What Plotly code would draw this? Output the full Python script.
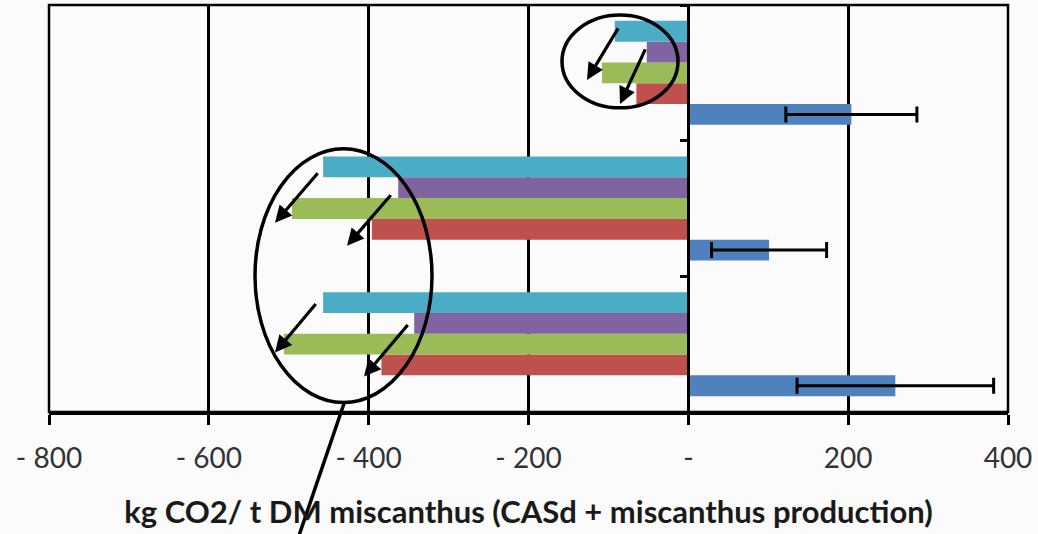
import plotly.graph_objects as go

# ---- data (categories listed bottom -> top) ----
categories = ["Scenario 3", "Scenario 2", "Scenario 1"]
series_names = ["Series 1", "Series 2", "Series 3", "Series 4", "Series 5"]
blue_vals = [259, 101, 204]
blue_err = [123, 72, 82]
red_vals = [-384, -396, -65]
green_vals = [-506, -496, -108]
purple_vals = [-343, -363, -52]
cyan_vals = [-457, -457, -92]
tick_vals = [-800, -600, -400, -200, 0, 200, 400]
tick_text = ["- 800", "- 600", "- 400", "- 200", "-", "200", "400"]
x_title = "kg CO2/ t DM miscanthus (CASd + miscanthus production)"

colors = ["#4F81BD", "#C0504D", "#9BBB59", "#8064A2", "#4BACC6"]
values = [blue_vals, red_vals, green_vals, purple_vals, cyan_vals]

W, H = 1038, 534
ML, MR, MT, MB = 49, 30, 5, 121.5
PW, PH = W - ML - MR, H - MT - MB


def px(x):
    return (x - ML) / PW


def py(y):
    return (MT + PH - y) / PH


fig = go.Figure()
for i, (name, vals, col) in enumerate(zip(series_names, values, colors)):
    kw = {}
    if i == 0:
        kw["error_x"] = dict(type="data", array=blue_err, visible=True,
                             color="black", thickness=3, width=8)
    fig.add_trace(go.Bar(y=categories, x=vals, name=name, orientation="h",
                         marker=dict(color=col, line=dict(width=0)), **kw))

shapes = []
# plot border
shapes.append(dict(type="rect", xref="paper", yref="paper", x0=0, x1=1, y0=0, y1=1,
                   line=dict(color="black", width=2.5), layer="above"))
# ellipses
for (x0, y0, x1, y1) in [(562, 15, 678, 108), (255, 149, 432, 403)]:
    shapes.append(dict(type="circle", xref="paper", yref="paper",
                       x0=px(x0), x1=px(x1), y0=py(y1), y1=py(y0),
                       line=dict(color="black", width=3.5), layer="above"))
# connector line
shapes.append(dict(type="line", xref="paper", yref="paper",
                   x0=px(344), y0=py(404), x1=px(296), y1=py(545),
                   line=dict(color="black", width=3.5), layer="above"))

annotations = []
arrows = [((619, 27), (587, 80)), ((646, 48), (620, 104)),
          ((319, 172), (275, 223)), ((392, 194), (347, 246)),
          ((317, 303), (275, 353)), ((409, 324), (364, 377))]
for (tx, ty), (hx, hy) in arrows:
    annotations.append(dict(xref="paper", yref="paper", x=px(hx), y=py(hy),
                            ax=tx - hx, ay=ty - hy, axref="pixel", ayref="pixel",
                            text="", showarrow=True, arrowhead=2, arrowsize=1.05,
                            arrowwidth=3.2, arrowcolor="black", standoff=0))

fig.update_layout(
    width=W, height=H,
    margin=dict(l=ML, r=MR, t=MT, b=MB, autoexpand=False),
    paper_bgcolor="#FBFBFB", plot_bgcolor="#FBFBFB",
    barmode="group", bargap=0.234, bargroupgap=0,
    showlegend=False,
    shapes=shapes, annotations=annotations,
    font=dict(family="Lato", color="#333333"),
    xaxis=dict(range=[-800, 400], tickvals=tick_vals, ticktext=tick_text,
               showgrid=True, gridcolor="black", gridwidth=2.5,
               zeroline=True, zerolinecolor="black", zerolinewidth=2.5,
               showline=True, linecolor="black", linewidth=2.5,
               ticks="outside", ticklen=10, tickwidth=2.5, tickcolor="black",
               ticklabelstandoff=10,
               tickfont=dict(family="Lato", size=28, color="#333333"),
               title=dict(text="<b>" + x_title + "</b>", standoff=28,
                          font=dict(family="Lato", size=31, color="#1a1a1a")),
               fixedrange=True),
    yaxis=dict(anchor="free", position=800 / 1200, showline=True,
               linecolor="black", linewidth=2.5, ticks="outside",
               tickson="boundaries", ticklen=8, tickwidth=2.5, tickcolor="black",
               showticklabels=False, showgrid=False, zeroline=False,
               fixedrange=True),
)

fig.write_html("out.html", config={"displayModeBar": False},
               post_script="document.body.style.margin='0';document.body.style.background='#FBFBFB';")
